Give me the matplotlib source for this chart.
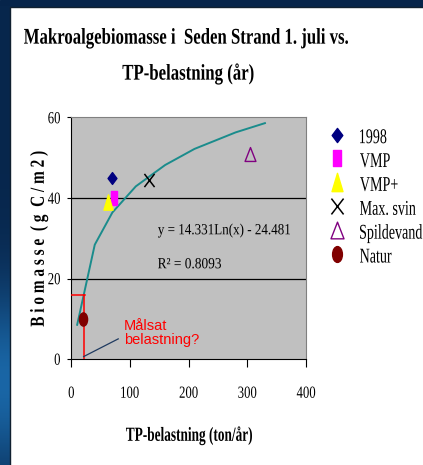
import numpy as np
import matplotlib
matplotlib.use('Agg')
import matplotlib.pyplot as plt
from matplotlib.path import Path
from matplotlib.patches import PathPatch
from matplotlib.textpath import TextPath
from matplotlib.font_manager import FontProperties
from matplotlib.transforms import Affine2D

# trendline as drawn (log fit)
trend_x = [10, 40, 70, 110, 160, 210, 280, 330]
trend_y = [8.5, 28.4, 36.4, 42.9, 48.2, 52.2, 56.3, 58.6]

# scenario points
labels = ['1998', 'VMP', 'VMP+', 'Max. svin', 'Spildevand', 'Natur']
pts_x = [70, 72, 63, 132, 305, 20]
pts_y = [45, 40, 39, 44.5, 51, 10]

# target load lines
target_x = 21
target_y = 16

xticks = [0, 100, 200, 300, 400]
yticks = [0, 20, 40, 60]

serif = 'Liberation Serif'
W, H = 423, 465

# the original slide is squeezed sideways, so markers are narrow
diamond = Path([(0, 1), (0.75, 0), (0, -1), (-0.75, 0), (0, 1)], closed=True)
rect = Path([(-0.5, -1), (0.5, -1), (0.5, 1), (-0.5, 1), (-0.5, -1)], closed=True)
tri = Path([(-0.6, -1), (0.6, -1), (0, 1), (-0.6, -1)], closed=True)
tri_open = Path([(-0.78, -1), (0.78, -1), (0, 1), (-0.78, -1)], closed=True)
cross = Path([(-0.77, -1), (0.77, 1), (-0.77, 1), (0.77, -1)],
             [Path.MOVETO, Path.LINETO, Path.MOVETO, Path.LINETO])
ellipse = Path.unit_circle().transformed(Affine2D().scale(0.62, 1.0))
styles = [
    dict(marker=diamond, color='#000080', ms=8.5),
    dict(marker=rect, color='#ff00ff', ms=10),
    dict(marker=tri, color='#ffff00', ms=11),
    dict(marker=cross, color='black', ms=9.5, mew=1.1),
    dict(marker=tri_open, mfc='none', mec='#800080', color='#800080', ms=10, mew=1.0),
    dict(marker=ellipse, color='#800000', ms=9.5),
]

fig = plt.figure(figsize=(W / 100, H / 100), dpi=100)

# slide background: navy frame with bluish left strip
bg = fig.add_axes([0, 0, 1, 1])
bg.set_axis_off()
bg.set_xlim(0, W)
bg.set_ylim(H, 0)
grad = np.linspace(0, 1, H)
c_top = np.array([0.03, 0.15, 0.30])
c_mid = np.array([0.10, 0.40, 0.65])
w = np.exp(-((grad - 0.82) / 0.2) ** 2)
strip = (c_top[None, :] * (1 - w[:, None]) + c_mid[None, :] * w[:, None])[:, None, :]
bg.add_patch(plt.Rectangle((0, 0), W, H, color='#06244a', zorder=0))
bg.imshow(strip, extent=[0, 10, H, 7], aspect='auto', zorder=1)
bg.add_patch(plt.Rectangle((10, 7), 420, 470, facecolor='white', edgecolor='#102030', lw=1, zorder=2))

ax = fig.add_axes([71.3 / W, 1 - 359 / H, 234.7 / W, 241.5 / H])
ax.set_facecolor('#c0c0c0')
ax.set_xlim(0, 400)
ax.set_ylim(0, 60)
for s in ['top', 'right']:
    ax.spines[s].set_color('#808080')
for s in ['left', 'bottom']:
    ax.spines[s].set_color('black')
for v in [20, 40]:
    ax.axhline(v, color='black', lw=0.9, zorder=1)

ax.plot(trend_x, trend_y, color='#1a8c8c', lw=1.4, zorder=2)

ax.plot([target_x, target_x], [0, target_y], color='red', lw=1.1, zorder=3)
ax.plot([0, target_x + 2], [target_y, target_y], color='red', lw=1.1, zorder=3)

for x, y, lab, st in zip(pts_x, pts_y, labels, styles):
    ax.plot([x], [y], ls='none', label=lab, zorder=4, clip_on=False, **st)

ax.plot([target_x, 80], [0.6, 5], color='#1f3a60', lw=0.9, zorder=3)
ax.text(90, 10, 'Målsat\nbelastning?', color='red', fontsize=10.5,
        family='Liberation Sans', va='top', ha='left', linespacing=1.05)

ax.set_xticks(xticks)
ax.set_yticks(yticks)
ax.tick_params(axis='x', direction='out', length=6, labelbottom=False)
ax.tick_params(axis='y', direction='out', length=3, labelleft=False)

# legend gives the markers; its labels are redrawn narrow below
leg = ax.legend(loc='upper left', bbox_to_anchor=(330 / W, 1 - 130 / H),
                bbox_transform=fig.transFigure, frameon=False,
                prop=dict(family=serif, size=9), handlelength=1.1,
                handletextpad=1.1, labelspacing=0.95, borderaxespad=0,
                borderpad=0, markerscale=1.2)

# overlay for the narrow (squeezed) serif text, in image pixels
ov = fig.add_axes([0, 0, 1, 1], zorder=10)
ov.set_axis_off()
ov.set_xlim(0, W)
ov.set_ylim(0, H)
ov.patch.set_alpha(0)


def stext(s, x, y, size, sx=0.72, width=None, ha='center', weight='normal',
          color='black', rot=0):
    tp = TextPath((0, 0), s, size=size, prop=FontProperties(family=serif, weight=weight))
    e = tp.get_extents()
    if width:
        sx = width / e.width
    off = {'left': 0, 'center': 0.5, 'right': 1}[ha]
    tr = (Affine2D().translate(-e.x0 - off * e.width, -0.34 * size)
          .scale(sx, 1).rotate_deg(rot).translate(x, H - y))
    ov.add_patch(PathPatch(tr.transform_path(tp), fc=color, ec='none', lw=0))


stext('Makroalgebiomasse i  Seden Strand 1. juli vs.', 186, 36, 22.5, width=324, weight='bold')
stext('TP-belastning (år)', 188, 72, 22.5, width=131, weight='bold')
stext('TP-belastning (ton/år)', 189, 434, 20, width=126, weight='bold')
stext('B i o m a s s e  ( g  C / m 2 )', 37, 239, 20, width=175, weight='bold', rot=90)
stext('y = 14.331Ln(x) - 24.481', 158, 229, 15.5, width=132, ha='left')
stext('R² = 0.8093', 158, 263, 15.5, width=63, ha='left')

for v in xticks:
    px, _ = ax.transData.transform((v, 0))
    stext(str(v), px, 392, 17, sx=0.75)
for v in yticks:
    _, py = ax.transData.transform((0, v))
    stext(str(v), 60, H - py, 17, sx=0.75, ha='right')

fig.canvas.draw()
for t in leg.get_texts():
    bb = t.get_window_extent()
    t.set_color('none')
    stext(t.get_text(), 360, H - (bb.y0 + bb.y1) / 2, 21, sx=0.67, ha='left')

fig.savefig('out.png', dpi=100)
